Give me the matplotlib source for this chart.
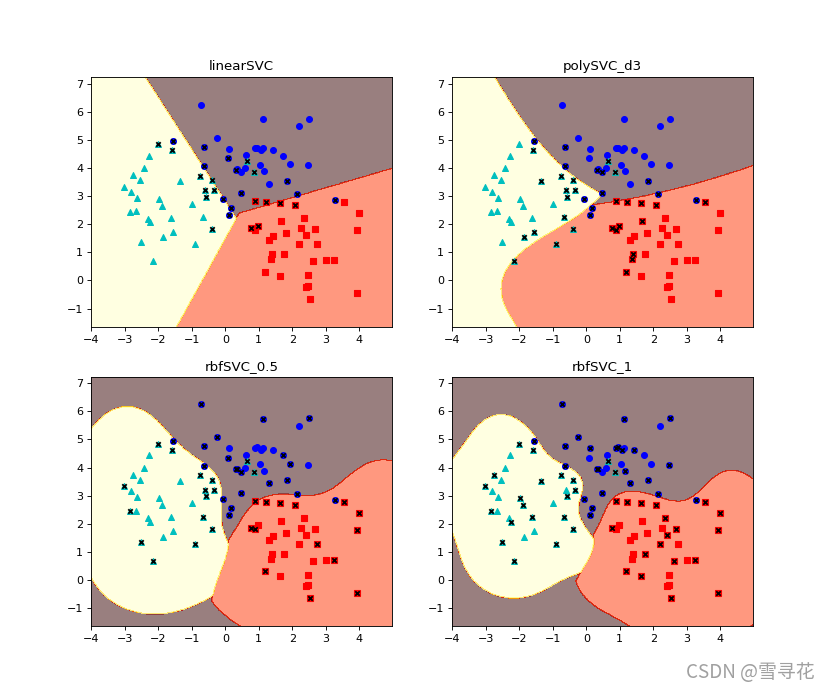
"""SVC decision regions on a 3-class blob set: linear, poly and two rbf kernels."""

import numpy as np
import matplotlib.pyplot as plt

# class 0 (blue circles)
blue_x = [-0.72, 1.13, 2.51, 2.20, -0.26, -1.57, -0.64, 0.10, 0.88, 0.95, 1.13,
          1.06, 1.42, 1.72, 0.63, 0.07, 1.93, 2.48, 1.03, -0.63, 0.60, 1.16,
          0.31, 0.36, 0.48, 1.30, 1.85, 0.46, 2.13, 3.26, -0.07, 0.18, 0.10]
blue_y = [6.25, 5.74, 5.75, 5.48, 5.07, 4.95, 4.75, 4.68, 4.70, 4.72, 4.69,
          4.62, 4.62, 4.43, 4.46, 4.34, 4.14, 4.09, 4.11, 4.07, 3.99, 3.89,
          3.94, 3.95, 3.86, 3.44, 3.55, 3.11, 3.06, 2.85, 2.88, 2.58, 2.31]

# class 1 (red squares)
red_x = [0.89, 1.21, 1.64, 2.07, 3.55, 3.99, 2.35, 1.67, 2.26, 2.68, 3.92,
         0.78, 0.89, 0.99, 1.80, 2.41, 1.42, 1.30, 2.19, 2.74, 1.39, 1.76,
         1.36, 3.01, 3.25, 2.62, 1.19, 1.64, 2.47, 2.42, 2.46, 3.93, 2.53]
red_y = [2.81, 2.79, 2.74, 2.67, 2.79, 2.38, 2.21, 2.10, 1.86, 1.83, 1.79,
         1.86, 1.80, 1.95, 1.69, 1.60, 1.57, 1.44, 1.29, 1.29, 0.94, 0.94,
         0.76, 0.73, 0.71, 0.68, 0.31, 0.16, 0.19, -0.22, -0.19, -0.45, -0.65]

# class 2 (cyan triangles)
cyan_x = [-2.02, -1.59, -2.27, -2.43, -2.76, -2.55, -1.36, -0.75, -0.41, -3.01,
          -2.81, -2.63, -0.60, -0.34, -0.57, -1.99, -1.90, -0.99, -2.84, -2.66,
          -2.32, -2.26, -1.62, -0.66, -1.55, -0.39, -1.87, -2.52, -0.90, -2.16,
          0.65, 0.86]
cyan_y = [4.84, 4.63, 4.44, 4.00, 3.73, 3.57, 3.52, 3.72, 3.57, 3.33,
          3.16, 2.94, 3.22, 3.22, 2.98, 2.91, 2.66, 2.73, 2.44, 2.46,
          2.20, 2.08, 2.23, 2.26, 1.73, 1.83, 1.53, 1.35, 1.30, 0.69,
          4.24, 3.86]

titles = ["linearSVC", "polySVC_d3", "rbfSVC_0.5", "rbfSVC_1"]

X = np.column_stack([blue_x + red_x + cyan_x, blue_y + red_y + cyan_y])
y = np.array([0] * len(blue_x) + [1] * len(red_x) + [2] * len(cyan_x))


def kernel(A, B, kind, gamma):
    if kind == "linear":
        return A @ B.T
    if kind == "poly":
        return (gamma * (A @ B.T)) ** 3
    d = (A ** 2).sum(1)[:, None] + (B ** 2).sum(1)[None, :] - 2 * A @ B.T
    return np.exp(-gamma * d)


def smo(K, t, C=1.0, tol=1e-3, max_iter=200000):
    # libsvm-style SMO with maximal violating pair
    n = len(t)
    a = np.zeros(n)
    G = -np.ones(n)
    for _ in range(max_iter):
        v = -t * G
        up = ((t > 0) & (a < C)) | ((t < 0) & (a > 0))
        low = ((t < 0) & (a < C)) | ((t > 0) & (a > 0))
        iu, il = np.where(up)[0], np.where(low)[0]
        i = iu[np.argmax(v[iu])]
        j = il[np.argmin(v[il])]
        if v[i] - v[j] < tol:
            break
        eta = max(K[i, i] + K[j, j] - 2 * K[i, j], 1e-12)
        s = (v[i] - v[j]) / eta
        s = min(s, C - a[i] if t[i] > 0 else a[i], a[j] if t[j] > 0 else C - a[j])
        a[i] += t[i] * s
        a[j] -= t[j] * s
        for k in (i, j):
            if a[k] < 1e-12:
                a[k] = 0.0
            elif a[k] > C - 1e-12:
                a[k] = C
        G += t * s * (K[:, i] - K[:, j])

    yG = t * G
    free = (a > 0) & (a < C)
    if free.any():
        rho = yG[free].mean()
    else:
        upper = ((a >= C) & (t < 0)) | ((a <= 0) & (t > 0))
        lower = ~upper
        rho = (yG[upper].min() + yG[lower].max()) / 2
    return a, rho


def fit_predict(kind, gamma, grid):
    votes = np.zeros((len(grid), 3), dtype=int)
    sv = np.zeros(len(X), dtype=bool)
    for p, q in [(0, 1), (0, 2), (1, 2)]:
        idx = np.where((y == p) | (y == q))[0]
        Xs = X[idx]
        t = np.where(y[idx] == p, 1.0, -1.0)
        a, rho = smo(kernel(Xs, Xs, kind, gamma), t)
        sv[idx[a > 0]] = True
        f = kernel(grid, Xs[a > 0], kind, gamma) @ (a[a > 0] * t[a > 0]) - rho
        votes[f > 0, p] += 1
        votes[f <= 0, q] += 1
    return votes.argmax(1), X[sv]


h = 0.02
x_min, x_max = X[:, 0].min() - 1, X[:, 0].max() + 1
y_min, y_max = X[:, 1].min() - 1, X[:, 1].max() + 1
xx, yy = np.meshgrid(np.arange(x_min, x_max, h), np.arange(y_min, y_max, h))
grid = np.c_[xx.ravel(), yy.ravel()]

gamma_scale = 1.0 / (X.shape[1] * X.var())
models = [("linear", None), ("poly", gamma_scale), ("rbf", 0.5), ("rbf", 1.0)]

fig = plt.figure(figsize=(10.375, 8.6), dpi=80)
fig.subplots_adjust(left=0.1096, right=0.907, bottom=0.0894, top=0.888,
                    wspace=0.2, hspace=0.2)

for n, ((kind, gamma), title) in enumerate(zip(models, titles)):
    Z, sv = fit_predict(kind, gamma, grid)
    ax = fig.add_subplot(2, 2, n + 1)
    ax.contourf(xx, yy, Z.reshape(xx.shape), cmap=plt.cm.hot, alpha=0.5)
    ax.scatter(blue_x, blue_y, c="b", marker="o", s=28)
    ax.scatter(red_x, red_y, c="r", marker="s", s=26)
    ax.scatter(cyan_x, cyan_y, c="c", marker="^", s=28)
    ax.scatter(sv[:, 0], sv[:, 1], c="k", marker="x", s=16, linewidths=1.6)
    ax.set_xlim(xx.min(), xx.max())
    ax.set_ylim(yy.min(), yy.max())
    ax.set_title(title)

fig.text(0.981, 0.0145, "CSDN @雪寻花", ha="right", va="baseline", fontsize=17,
         color="#a0a0a0", family=["Noto Sans CJK SC", "DejaVu Sans"])

fig.savefig("out.png", dpi=80)
